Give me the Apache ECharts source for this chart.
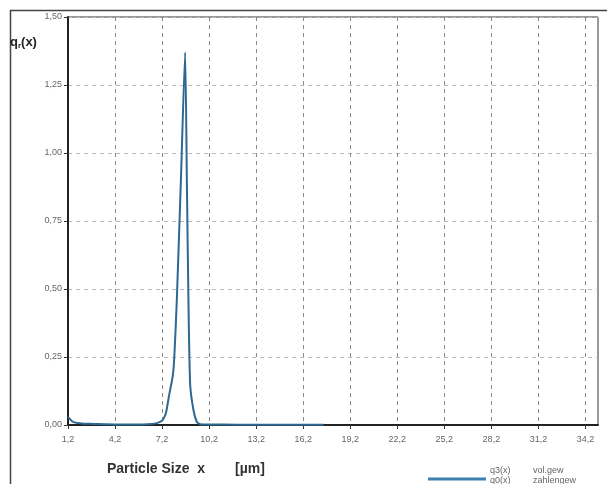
<!DOCTYPE html>
<html>
<head>
<meta charset="utf-8">
<script src="https://cdn.jsdelivr.net/npm/echarts@6/dist/echarts.min.js"></script>
<style>
  html, body { margin: 0; padding: 0; background: #fff; }
  #chart { width: 607px; height: 484px; }
</style>
</head>
<body>
<div id="chart"></div>
<script>
// particle size [µm] and density q3(x)
const sizes = [1.2, 1.5, 1.8, 2.2, 2.8, 3.5, 4.5, 5.5, 6.3, 6.8, 7.1, 7.26, 7.45, 7.65, 7.88, 7.98, 8.14, 8.4, 8.67, 8.78, 8.88, 8.99, 9.2, 9.41, 9.62, 10.2, 12.0, 14.5, 17.5];
const q3 = [0.03, 0.012, 0.007, 0.005, 0.004, 0.003, 0.002, 0.002, 0.003, 0.006, 0.012, 0.02, 0.045, 0.11, 0.18, 0.25, 0.46, 0.9, 1.37, 0.9, 0.46, 0.15, 0.055, 0.012, 0.003, 0.002, 0.001, 0.001, 0.001];
const xTicks = [1.2, 4.2, 7.2, 10.2, 13.2, 16.2, 19.2, 22.2, 25.2, 28.2, 31.2, 34.2];

const comma = (v, d) => v.toFixed(d).replace('.', ',');

const chart = echarts.init(document.getElementById('chart'));
chart.setOption({
  animation: false,
  backgroundColor: '#fff',
  grid: { left: 68, right: 9, top: 17, bottom: 59, show: true, borderColor: '#333', borderWidth: 1 },
  xAxis: {
    type: 'value',
    min: 1.2,
    max: 35,
    axisLine: { show: true, onZero: false, lineStyle: { color: '#222', width: 2 } },
    axisTick: { show: true, customValues: xTicks, length: 4, lineStyle: { color: '#333' } },
    axisLabel: { customValues: xTicks, color: '#666', fontSize: 9, margin: 10, formatter: v => comma(v, 1) },
    splitLine: { show: true, lineStyle: { color: '#888', type: [4, 4] } }
  },
  yAxis: {
    type: 'value',
    min: 0,
    max: 1.5,
    interval: 0.25,
    axisLine: { show: true, lineStyle: { color: '#222', width: 2 } },
    axisTick: { show: true, length: 4, lineStyle: { color: '#333' } },
    axisLabel: { color: '#666', fontSize: 9, margin: 6, formatter: v => comma(v, 2) },
    splitLine: { show: true, lineStyle: { color: '#bbb', type: [4, 4] } }
  },
  series: [{
    name: 'q3(x)',
    type: 'line',
    data: sizes.map((x, i) => [x, q3[i]]),
    showSymbol: false,
    smooth: 0.2,
    lineStyle: { color: '#2f6891', width: 2 },
    z: 5
  }],
  graphic: [
    { type: 'rect', left: 8, top: 8, shape: { width: 620, height: 500 }, style: { fill: null, stroke: '#444', lineWidth: 1.5 }, silent: true },
    { type: 'text', left: 10, top: 36, style: {
        text: '{q|q}{s|r}{q|(x)}',
        rich: {
          q: { fontSize: 13, fontWeight: 'bold', fill: '#222', fontFamily: 'Liberation Sans' },
          s: { fontSize: 8, fontWeight: 'bold', fill: '#222', padding: [6, 0, 0, 0], fontFamily: 'Liberation Sans' }
        }
      } },
    { type: 'text', left: 107, top: 462, style: { text: 'Particle Size  x', font: 'bold 14px Liberation Sans', fill: '#333' } },
    { type: 'text', left: 235, top: 462, style: { text: '[µm]', font: 'bold 14px Liberation Sans', fill: '#333' } },
    { type: 'line', shape: { x1: 428, y1: 479, x2: 486, y2: 479 }, style: { stroke: '#3f7fb0', lineWidth: 3 } },
    { type: 'text', left: 490, top: 466, style: { text: 'q3(x)', font: '9px Liberation Sans', fill: '#666' } },
    { type: 'text', left: 533, top: 466, style: { text: 'vol.gew', font: '9px Liberation Sans', fill: '#666' } },
    { type: 'text', left: 490, top: 476, style: { text: 'q0(x)', font: '9px Liberation Sans', fill: '#666' } },
    { type: 'text', left: 533, top: 476, style: { text: 'zahlengew', font: '9px Liberation Sans', fill: '#666' } }
  ]
});
</script>
</body>
</html>
